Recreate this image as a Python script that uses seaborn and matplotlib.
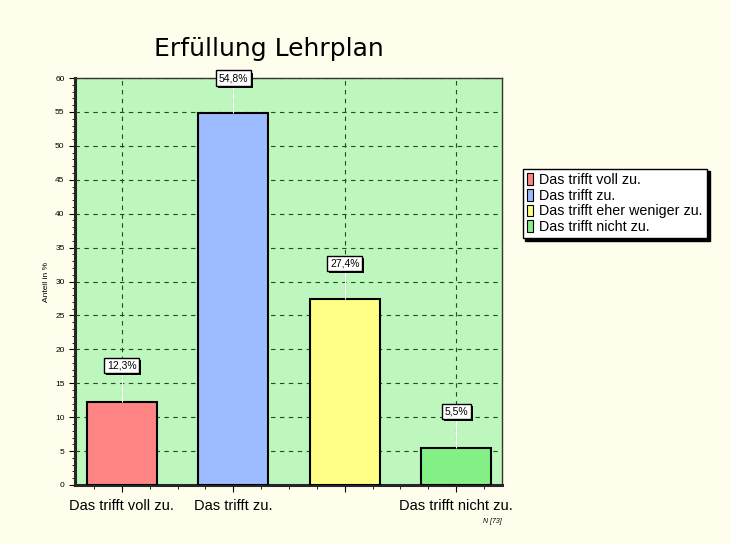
import matplotlib
matplotlib.use("Agg")
import matplotlib.pyplot as plt
import matplotlib.patheffects as pe
import seaborn as sns
from matplotlib.patches import Patch
from matplotlib.ticker import MultipleLocator

categories = ["Das trifft voll zu.", "Das trifft zu.", "Das trifft eher weniger zu.", "Das trifft nicht zu."]
tick_labels = ["Das trifft voll zu.", "Das trifft zu.", "", "Das trifft nicht zu."]
values = [12.3, 54.8, 27.4, 5.5]
value_labels = ["12,3%", "54,8%", "27,4%", "5,5%"]
colors = ["#FF8585", "#9DBBFF", "#FFFF85", "#85F085"]

sns.set_style("ticks")
plt.rcParams["font.family"] = ["Liberation Sans", "DejaVu Sans"]
plt.rcParams["text.color"] = "black"
plt.rcParams["xtick.color"] = "black"
plt.rcParams["ytick.color"] = "black"
plt.rcParams["axes.labelcolor"] = "black"

fig = plt.figure(figsize=(7.31, 5.44), dpi=100, facecolor="#FFFDEB")
ax = fig.add_axes([0.1026, 0.1085, 0.584, 0.748])
ax.set_facecolor("#BDF7BD")

sns.barplot(x=categories, y=values, hue=categories, palette=colors, legend=False,
            width=0.63, edgecolor="black", linewidth=1.5, saturation=1, ax=ax, zorder=3)

ax.set_xlim(-0.42, 3.41)
ax.set_ylim(0, 60)
ax.yaxis.set_major_locator(MultipleLocator(5))
ax.yaxis.set_minor_locator(MultipleLocator(1))
ax.xaxis.set_minor_locator(MultipleLocator(0.25))
ax.set_xticks(range(len(categories)))
ax.set_xticklabels(tick_labels, fontsize=10.5)
ax.tick_params(axis="y", labelsize=6, length=4, width=0.8)
ax.tick_params(axis="y", which="minor", length=2, width=0.6)
ax.tick_params(axis="x", length=5, width=0.8, pad=5)
ax.tick_params(axis="x", which="minor", length=3, width=0.6)
ax.grid(True, which="major", color="#1F4F1F", linestyle=(0, (4, 4)), linewidth=0.8, zorder=0)
ax.set_axisbelow(True)

for side in ["left", "bottom"]:
    ax.spines[side].set_linewidth(2.2)
for side in ["top", "right"]:
    ax.spines[side].set_linewidth(1.0)
    ax.spines[side].set_color("#333333")

ax.set_ylabel("Anteil in %", fontsize=6)
ax.set_xlabel("")
ax.set_title("Erfüllung Lehrplan", fontsize=18, family="DejaVu Sans", color="black",
             pad=16, x=0.455)

for i, (v, lab) in enumerate(zip(values, value_labels)):
    top = min(v + 5.3, 60)
    ax.vlines(i, v, top, color="white", linewidth=0.8, zorder=4)
    t = ax.annotate(lab, (i, top), ha="center", va="center", fontsize=7.5, zorder=6,
                    bbox=dict(boxstyle="square,pad=0.25", fc="white", ec="black", lw=1.0),
                    annotation_clip=False)
    t.get_bbox_patch().set_path_effects([
        pe.SimplePatchShadow(offset=(1.5, -1.5), shadow_rgbFace="black", alpha=1),
        pe.Normal(),
    ])

handles = [Patch(facecolor=c, edgecolor="black", linewidth=0.8) for c in colors]
leg = fig.legend(handles, categories, loc="upper left", bbox_to_anchor=(0.705, 0.703),
                 fontsize=10.3, frameon=True, fancybox=False, framealpha=1,
                 edgecolor="black", handlelength=0.4, handleheight=0.9,
                 handletextpad=0.45, labelspacing=0.12, borderpad=0.3,
                 shadow={"color": "black", "alpha": 1})
leg.get_frame().set_linewidth(1.0)

fig.text(0.673, 0.039, "N [73]", fontsize=5, style="italic", ha="center")

fig.savefig("out.png", dpi=100, facecolor=fig.get_facecolor())
